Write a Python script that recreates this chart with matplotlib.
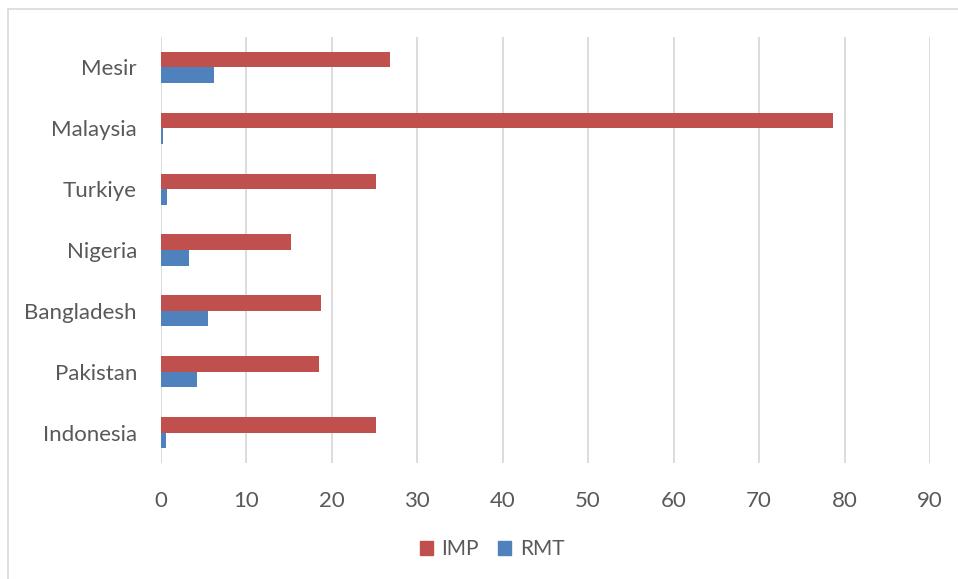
import matplotlib
matplotlib.use("Agg")
import matplotlib.pyplot as plt
from matplotlib.patches import Rectangle, Patch
import numpy as np

countries = ["Indonesia", "Pakistan", "Bangladesh", "Nigeria", "Turkiye", "Malaysia", "Mesir"]
imp = [25.2, 18.5, 18.8, 15.3, 25.2, 78.6, 26.9]
rmt = [0.7, 4.3, 5.5, 3.3, 0.8, 0.3, 6.3]
xticks = [0, 10, 20, 30, 40, 50, 60, 70, 80, 90]

RED = "#C0504D"
BLUE = "#4F81BD"
GRID = "#D9D9D9"
TXT = "#595959"

plt.rcParams["font.family"] = ["Lato", "DejaVu Sans"]

W, H = 958, 579
fig = plt.figure(figsize=(W / 100, H / 100), dpi=100)

# outer chart frame (runs off the right and bottom edges)
fig.patches.append(Rectangle((8 / W, -0.1), 1.2, (H - 9) / H + 0.1,
                             transform=fig.transFigure, fill=False,
                             edgecolor="#D9D9D9", linewidth=1.2))

left, right, top, bottom = 160.5, 930, 37, 463
ax = fig.add_axes([left / W, (H - bottom) / H, (right - left) / W, (bottom - top) / H])

y = np.arange(len(countries))
h = 0.255
ax.barh(y + h / 2, imp, height=h, color=RED, label="IMP", zorder=3)
ax.barh(y - h / 2, rmt, height=h, color=BLUE, label="RMT", zorder=3)

ax.set_xlim(0, 90)
ax.set_ylim(-0.5, len(countries) - 0.5)
ax.set_xticks(xticks)
ax.set_yticks(y)
ax.set_yticklabels(countries)
ax.grid(axis="x", color=GRID, linewidth=1.3, zorder=0)
for s in ax.spines.values():
    s.set_visible(False)
ax.tick_params(axis="both", length=0, colors=TXT, labelsize=16)
ax.tick_params(axis="x", pad=20)
ax.tick_params(axis="y", pad=17)

handles = [Patch(color=RED, label="IMP"), Patch(color=BLUE, label="RMT")]
leg = fig.legend(handles=handles, loc="center", bbox_to_anchor=(492 / W, (H - 549) / H),
                 ncol=2, frameon=False, fontsize=15, handlelength=0.65, handleheight=0.65,
                 handletextpad=0.4, columnspacing=0.9)
for t in leg.get_texts():
    t.set_color(TXT)

fig.savefig("out.png", dpi=100)
